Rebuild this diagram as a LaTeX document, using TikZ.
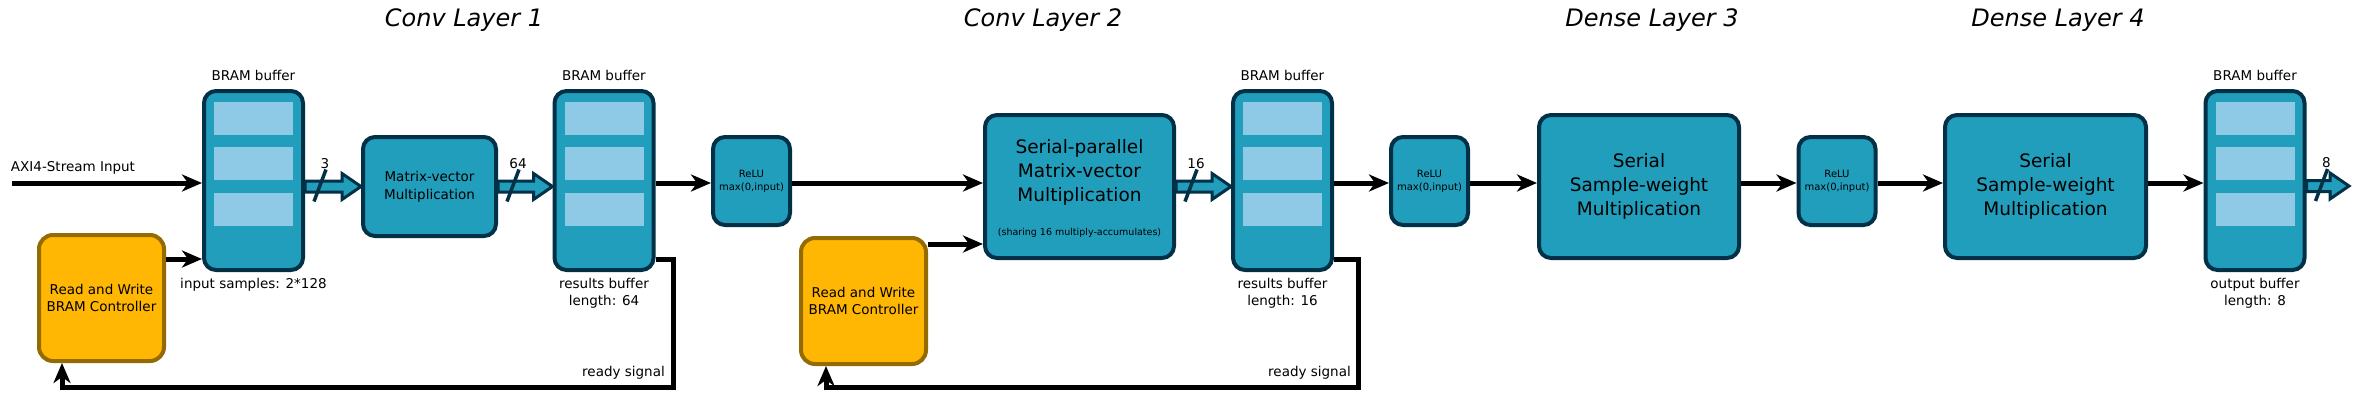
\documentclass[tikz,border=0pt]{standalone}
\usepackage{fontspec}
\setmainfont{DejaVu Sans}
\usetikzlibrary{arrows.meta,calc}
\definecolor{cteal}{HTML}{219EBC}
\definecolor{cdark}{HTML}{023047}
\definecolor{clight}{HTML}{8ECAE6}
\definecolor{corange}{HTML}{FFB703}
\definecolor{cbrown}{HTML}{946B00}
\newcommand\fsz[2]{\fontsize{#1}{#2}\selectfont}
\tikzset{
  blk/.style={draw=cdark, fill=cteal, line width=4pt, rounded corners=12pt, inner sep=0pt, align=center},
  buffer/.style={blk, minimum width=99pt, minimum height=179pt},
  cell/.style={fill=clight, minimum width=79pt, minimum height=33pt, inner sep=0pt, outer sep=0pt},
  ctrl/.style={draw=cbrown, fill=corange, line width=4pt, rounded corners=14pt, inner sep=0pt,
     minimum width=125pt, minimum height=126pt, align=center, font=\fsz{13.5}{17}},
  relu/.style={blk, minimum width=77pt, minimum height=88pt, font=\fsz{10}{13}},
  big/.style={blk, minimum width=200pt, minimum height=143pt, font=\fsz{18.5}{24}},
  lbl/.style={inner sep=0pt, font=\fsz{13.5}{17}, align=center},
  title/.style={inner sep=0pt, font=\fsz{24}{29}\itshape},
  arr/.style={line width=5pt, -{Stealth[length=20pt,width=17pt,inset=6pt]}},
  bus/.style={draw=cdark, fill=cteal, line width=3pt, line join=miter},
  slashln/.style={draw=cdark, line width=3.5pt},
}
\newcommand\bufcells[1]{%
  \foreach \dy/\k in {-62/1,-17/2,28.5/3}
    \node[cell] (#1c\k) at ($(#1.center)+(0,\dy)$) {};}
\newcommand\busarrow[4]{%
  \draw[bus] let \p1=(#1), \p2=(#2) in
    (\x1,\y1+5.5pt) -- (\x2-19pt,\y1+5.5pt) -- (\x2-19pt,\y1+13pt) -- (\x2,\y1)
    -- (\x2-19pt,\y1-13pt) -- (\x2-19pt,\y1-5.5pt) -- (\x1,\y1-5.5pt) -- cycle;
  \draw[slashln] let \p1=(#1) in (\x1+9pt,\y1-15pt) -- (\x1+21pt,\y1+17pt);
  \path let \p1=(#1) in node[lbl] (#4) at (\x1+20pt,\y1+23pt) {#3};}
\begin{document}
\begin{tikzpicture}[x=1pt,y=-1pt]
\useasboundingbox (0,0) rectangle (2359,405);
% titles
\node[title] (t1) at (464,20) {Conv Layer 1};
\node[title] (t2) at (1043,20) {Conv Layer 2};
\node[title] (t3) at (1652,20) {Dense Layer 3};
\node[title] (t4) at (2058,20) {Dense Layer 4};
% helper coordinates
\coordinate (ml) at (0,183);
\coordinate (ya) at (0,259);
\coordinate (yb) at (0,244);
\coordinate (inp) at (12,183);
\coordinate (busout) at (2349,186);
\coordinate (r1) at (673,387);
\coordinate (r1b) at (62,387);
\coordinate (r2) at (1358,387);
\coordinate (r2b) at (826,387);
% buffers
\node[buffer] (buf1) at (253.5,180.5) {};
\node[buffer] (buf2) at (604,180.5) {};
\node[buffer] (buf3) at (1282.5,180.5) {};
\node[buffer] (buf4) at (2255,180.5) {};
\bufcells{buf1}\bufcells{buf2}\bufcells{buf3}\bufcells{buf4}
% processing blocks
\node[blk, minimum width=133pt, minimum height=99pt, font=\fsz{13.5}{18}] (mv) at (429.5,186.5) {Matrix-vector\\Multiplication};
\node[relu] (relu1) at (751.5,181) {ReLU\\max(0,input)};
\node[blk, minimum width=189pt, minimum height=143pt] (sp) at (1079.5,186.5) {};
\node[inner sep=0pt, align=center, font=\fsz{18.5}{24}] (sptxt) at (1079.5,172) {Serial-parallel\\Matrix-vector\\Multiplication};
\node[inner sep=0pt, font=\fsz{9.5}{12}] (spnote) at (1079.5,233) {(sharing 16 multiply-accumulates)};
\node[relu] (relu2) at (1429.5,181) {ReLU\\max(0,input)};
\node[big] (d3) at (1639,186.5) {Serial\\Sample-weight\\Multiplication};
\node[relu] (relu3) at (1837,181) {ReLU\\max(0,input)};
\node[big, minimum width=201pt] (d4) at (2045.5,186.5) {Serial\\Sample-weight\\Multiplication};
% controllers
\node[ctrl] (ctrl1) at (101.5,298) {Read and Write\\BRAM Controller};
\node[ctrl] (ctrl2) at (863.5,301) {Read and Write\\BRAM Controller};
% labels
\node[lbl, anchor=base] (axi) at (73,171) {AXI4-Stream Input};
\foreach \b in {buf1,buf2,buf3,buf4}
  \node[lbl, anchor=base] (\b top) at ([yshift=9pt]\b.north) {BRAM buffer};
\node[lbl, anchor=north] (buf1bot) at ([yshift=-6pt]buf1.south) {input samples: 2*128};
\node[lbl, anchor=north] (buf2bot) at ([yshift=-6pt]buf2.south) {results buffer\\length: 64};
\node[lbl, anchor=north] (buf3bot) at ([yshift=-6pt]buf3.south) {results buffer\\length: 16};
\node[lbl, anchor=north] (buf4bot) at ([yshift=-6pt]buf4.south) {output buffer\\length: 8};
\node[lbl, anchor=east] (rs1) at (665,373) {ready signal};
\node[lbl, anchor=east] (rs2) at (1351,373) {ready signal};
% black arrows
\draw[arr] (inp) -- (inp -| buf1.west);
\draw[arr] (ctrl1.east |- ya) -- (buf1.west |- ya);
\draw[arr] (buf2.east |- ml) -- (relu1.west |- ml);
\draw[arr] (relu1.east |- ml) -- (sp.west |- ml);
\draw[arr] (ctrl2.east |- yb) -- (sp.west |- yb);
\draw[arr] (buf3.east |- ml) -- (relu2.west |- ml);
\draw[arr] (relu2.east |- ml) -- (d3.west |- ml);
\draw[arr] (d3.east |- ml) -- (relu3.west |- ml);
\draw[arr] (relu3.east |- ml) -- (d4.west |- ml);
\draw[arr] (d4.east |- ml) -- (buf4.west |- ml);
% ready signals
\draw[arr] (buf2.east |- ya) -| (r1) -- (r1b) -- (r1b |- ctrl1.south);
\draw[arr] (buf3.east |- ya) -| (r2) -- (r2b) -- (r2b |- ctrl2.south);
% bus arrows
\busarrow{buf1.east |- mv.center}{mv.west}{3}{b1}
\busarrow{mv.east}{buf2.west |- mv.center}{64}{b2}
\busarrow{sp.east}{buf3.west |- sp.center}{16}{b3}
\busarrow{buf4.east |- busout}{busout}{8}{b4}
\end{tikzpicture}
\end{document}
